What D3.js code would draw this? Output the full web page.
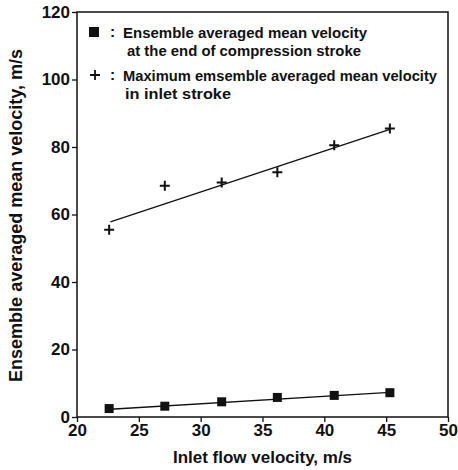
<!DOCTYPE html>
<html>
<head>
<meta charset="utf-8">
<script src="https://cdn.jsdelivr.net/npm/d3@7"></script>
<style>
  body { margin: 0; background: #fff; }
  text { font-family: "Liberation Sans", Arial, sans-serif; fill: #111; }
</style>
</head>
<body>
<div id="chart"></div>
<script>
// inlet flow velocity (x) shared by both series
const inletVelocity = [22.6, 27.1, 31.7, 36.2, 40.8, 45.3]
// ensemble averaged mean velocity at end of compression
const compressionVel = [2.5, 3.2, 4.5, 5.8, 6.4, 7.2]
// max ensemble averaged mean velocity in inlet stroke
const inletStrokeVel = [55.5, 68.5, 69.5, 72.5, 80.5, 85.5]
// fitted lines, end points
const compressionFit = [[22.7, 2.3], [45.3, 7.3]]
const inletStrokeFit = [[22.7, 57.8], [45.3, 85.2]]

const xTicks = [20, 25, 30, 35, 40, 45, 50]
const yTicks = [0, 20, 40, 60, 80, 100, 120]

let margin = { top: 12, right: 10, bottom: 53, left: 77 }
let width = 458 - margin.left - margin.right
let height = 470 - margin.top - margin.bottom

let svg = d3.select("#chart")
    .append("svg")
    .attr("width", 458)
    .attr("height", 470)
    .append("g")
    .attr("transform", "translate(" + margin.left + "," + margin.top + ")")

let x = d3.scaleLinear().domain([20, 50]).range([0, width])
let y = d3.scaleLinear().domain([0, 120]).range([height, 0])

// frame
svg.append("rect")
    .attr("width", width)
    .attr("height", height)
    .attr("fill", "none")
    .attr("stroke", "#111")
    .attr("stroke-width", 1.5)

// X axis
let xAxis = svg.append("g")
    .attr("transform", "translate(0," + height + ")")
    .call(d3.axisBottom(x).tickValues(xTicks).tickSize(5).tickPadding(2))
xAxis.select(".domain").remove()
xAxis.selectAll("line").attr("stroke", "#111").attr("stroke-width", 1.3)
xAxis.selectAll("text")
    .style("font-family", "'Liberation Sans', Arial, sans-serif")
    .style("font-size", "17px")
    .style("font-weight", "bold")
    .attr("fill", "#111")

// Y axis
let yAxis = svg.append("g")
    .call(d3.axisLeft(y).tickValues(yTicks).tickSize(5).tickPadding(2))
yAxis.select(".domain").remove()
yAxis.selectAll("line").attr("stroke", "#111").attr("stroke-width", 1.3)
yAxis.selectAll("text")
    .style("font-family", "'Liberation Sans', Arial, sans-serif")
    .style("font-size", "17px")
    .style("font-weight", "bold")
    .attr("fill", "#111")

// axis titles
svg.append("text")
    .attr("x", width / 2)
    .attr("y", height + 46)
    .attr("text-anchor", "middle")
    .style("font-size", "17px")
    .style("font-weight", "bold")
    .text("Inlet flow velocity, m/s")

svg.append("text")
    .attr("transform", "translate(" + (-55) + "," + (height / 2 + 1) + ") rotate(-90)")
    .attr("text-anchor", "middle")
    .style("font-size", "18px")
    .style("font-weight", "bold")
    .text("Ensemble averaged mean velocity, m/s")

// fit lines
let line = d3.line().x(d => x(d[0])).y(d => y(d[1]))
svg.append("path")
    .attr("d", line(compressionFit))
    .attr("fill", "none")
    .attr("stroke", "#111")
    .attr("stroke-width", 1.3)
svg.append("path")
    .attr("d", line(inletStrokeFit))
    .attr("fill", "none")
    .attr("stroke", "#111")
    .attr("stroke-width", 1.3)

// square markers
svg.selectAll(".sq")
    .data(inletVelocity.map((v, i) => [v, compressionVel[i]]))
    .enter()
    .append("rect")
    .attr("x", d => x(d[0]) - 4.5)
    .attr("y", d => y(d[1]) - 4.5)
    .attr("width", 9)
    .attr("height", 9)
    .attr("fill", "#111")

// plus markers
svg.selectAll(".plus")
    .data(inletVelocity.map((v, i) => [v, inletStrokeVel[i]]))
    .enter()
    .append("path")
    .attr("d", d => {
        let cx = x(d[0]), cy = y(d[1])
        return "M" + (cx - 5) + "," + cy + "H" + (cx + 5) + "M" + cx + "," + (cy - 5) + "V" + (cy + 5)
    })
    .attr("stroke", "#111")
    .attr("stroke-width", 2)

// legend
let legend = svg.append("g")
legend.append("rect")
    .attr("x", 12).attr("y", 15).attr("width", 10).attr("height", 10)
    .attr("fill", "#111")
legend.append("path")
    .attr("d", "M13,63H23M18,58V68")
    .attr("stroke", "#111")
    .attr("stroke-width", 1.8)

const legendLines = [
    [33, 25, ":", null],
    [46, 26, "Ensemble averaged mean velocity", 244],
    [50, 44, "at the end of compression stroke", 234],
    [33, 68, ":", null],
    [46, 69, "Maximum emsemble averaged mean velocity", 314],
    [48, 87, "in inlet stroke", 106]
]
legend.selectAll(".lt")
    .data(legendLines)
    .enter()
    .append("text")
    .attr("x", d => d[0])
    .attr("y", d => d[1])
    .attr("textLength", d => d[3])
    .attr("lengthAdjust", "spacingAndGlyphs")
    .style("font-size", "15.5px")
    .style("font-weight", "bold")
    .text(d => d[2])
</script>
</body>
</html>
